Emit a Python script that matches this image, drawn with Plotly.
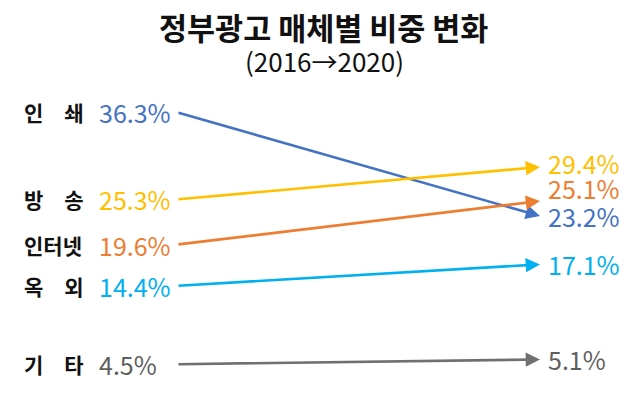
import plotly.graph_objects as go

categories = ["인　쇄", "방　송", "인터넷", "옥　외", "기　타"]
share_2016 = [36.3, 25.3, 19.6, 14.4, 4.5]
share_2020 = [23.2, 29.4, 25.1, 17.1, 5.1]
years = [2016, 2020]
colors = ["#4472C4", "#FFC000", "#ED7D31", "#00B0F0", "#5F5F5F"]
line_colors = ["#4472C4", "#FFC000", "#ED7D31", "#00B0F0", "#707070"]
right_label_shift = [0, 4, 13, 0, 0]

FONT = "Noto Sans CJK KR"

# page has an 8px body margin; figure sized to fit the 639x396 window
W, H = 631, 388
OFF = 8

fig = go.Figure()
fig.add_trace(go.Scatter(x=[years[0]] * len(share_2016) + [years[1]] * len(share_2020),
                         y=share_2016 + share_2020, mode="markers",
                         marker=dict(opacity=0), hoverinfo="skip", showlegend=False))

annotations = []
for i, cat in enumerate(categories):
    annotations.append(dict(
        x=years[1], y=share_2020[i], ax=years[0], ay=share_2016[i],
        xref="x", yref="y", axref="x", ayref="y",
        text="", showarrow=True, arrowhead=2, arrowsize=1.1, arrowwidth=2.6,
        arrowcolor=line_colors[i], standoff=0, startstandoff=0))
    annotations.append(dict(
        x=(22 - OFF) / W, y=share_2016[i], xref="paper", yref="y", xanchor="left", yanchor="middle",
        text=f"<b>{cat}</b>", showarrow=False,
        font=dict(family=FONT, size=21, color="#111111")))
    annotations.append(dict(
        x=(97 - OFF) / W, y=share_2016[i], xref="paper", yref="y", xanchor="left", yanchor="middle",
        text=f"{share_2016[i]}%", showarrow=False,
        font=dict(family=FONT, size=25, color=colors[i])))
    annotations.append(dict(
        x=(546 - OFF) / W, y=share_2020[i], xref="paper", yref="y", xanchor="left", yanchor="middle",
        text=f"{share_2020[i]}%", showarrow=False, yshift=right_label_shift[i],
        font=dict(family=FONT, size=25, color=colors[i])))

annotations.append(dict(x=(323 - OFF) / W, y=1, xref="paper", yref="paper", yanchor="top", yshift=80,
                        text="<b>정부광고 매체별 비중 변화</b>", showarrow=False,
                        font=dict(family=FONT, size=30.5, color="#111111")))
annotations.append(dict(x=(324 - OFF) / W, y=1, xref="paper", yref="paper", yanchor="top", yshift=43,
                        text="(2016→2020)", showarrow=False,
                        font=dict(family=FONT, size=26, color="#111111")))

px_per_year = 363 / 4
x0 = 2016 - (177 - OFF) / px_per_year
x1 = x0 + W / px_per_year

fig.update_layout(
    width=W, height=H,
    margin=dict(l=0, r=0, t=83 - OFF, b=H - (384 - OFF)),
    paper_bgcolor="white", plot_bgcolor="white",
    xaxis=dict(range=[x0, x1], visible=False, fixedrange=True),
    yaxis=dict(range=[2, 40], visible=False, fixedrange=True),
    annotations=annotations,
    showlegend=False,
)

fig.write_html("out.html")
